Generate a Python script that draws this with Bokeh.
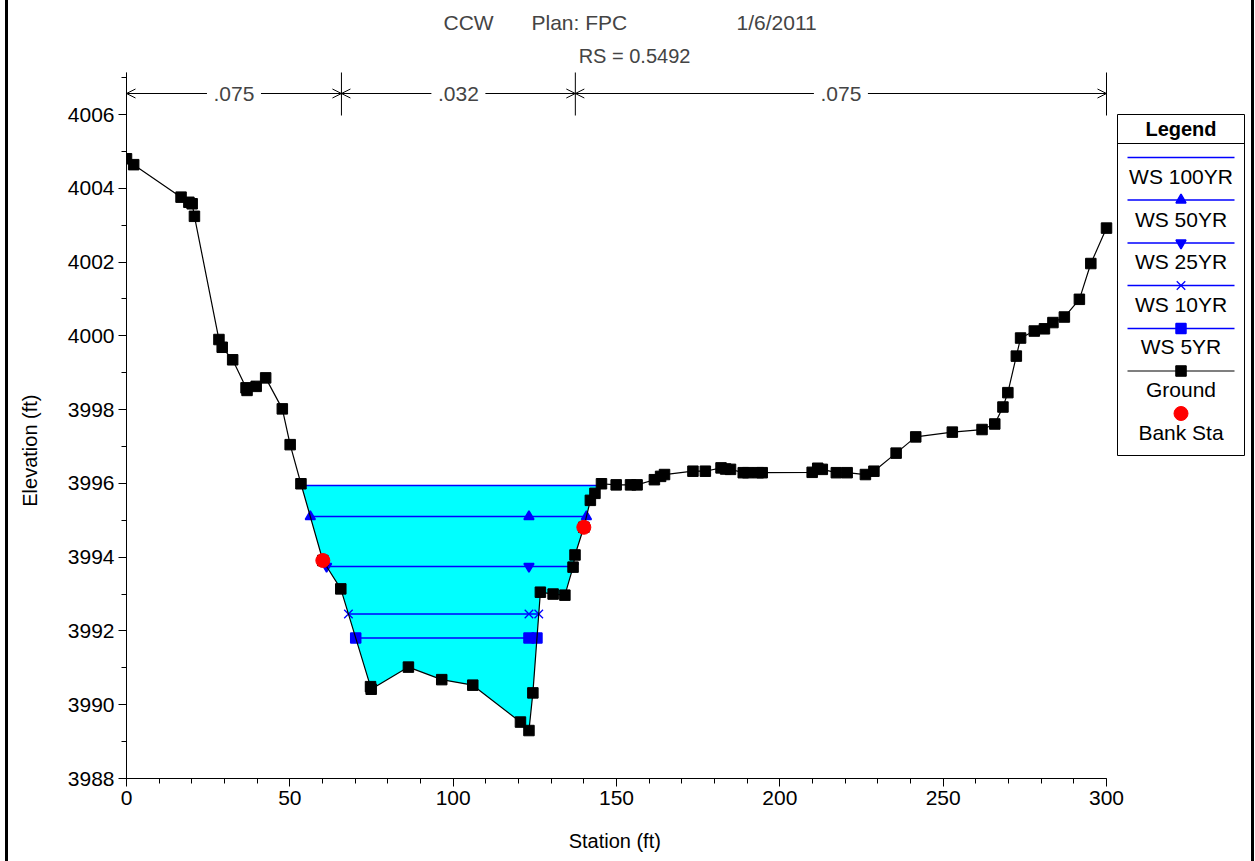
import numpy as np
from bokeh.plotting import figure
from bokeh.models import Range1d, LinearAxis, SingleIntervalTicker, Arrow, OpenHead, Label
from bokeh.core.properties import value
from bokeh.embed import file_html
from bokeh.resources import INLINE

# ---------------- data ----------------
ground_sta = [0.0, 2.2, 16.7, 19.1, 20.1, 20.8, 28.3, 29.3, 32.5, 36.6, 36.9, 39.7, 42.6, 47.7,
              50.1, 53.4, 60.1, 65.6, 74.7, 74.9, 86.3, 96.5, 106.0, 120.6, 123.2, 124.4, 126.7,
              130.6, 134.2, 136.7, 137.3, 140.0, 142.0, 143.4, 145.4, 149.9, 154.3, 156.3, 161.6,
              163.5, 164.7, 173.4, 177.2, 182.0, 183.4, 184.9, 188.8, 190.2, 193.4, 194.6, 209.9,
              211.6, 213.0, 217.3, 220.6, 226.2, 228.8, 235.6, 241.6, 252.8, 261.9, 265.8, 268.3,
              269.8, 272.4, 273.7, 277.9, 281.0, 283.6, 287.1, 291.7, 295.2, 300.0]
ground_elev = [4004.80, 4004.64, 4003.76, 4003.62, 4003.58, 4003.24, 3999.90, 3999.69, 3999.35,
               3998.59, 3998.52, 3998.63, 3998.86, 3998.02, 3997.05, 3995.99, 3993.91, 3993.14,
               3990.49, 3990.42, 3991.02, 3990.68, 3990.53, 3989.53, 3989.30, 3990.32, 3993.05,
               3993.00, 3992.97, 3993.73, 3994.06, 3994.81, 3995.54, 3995.73, 3995.99, 3995.96,
               3995.96, 3995.96, 3996.10, 3996.19, 3996.24, 3996.33, 3996.33, 3996.42, 3996.39,
               3996.38, 3996.29, 3996.29, 3996.29, 3996.29, 3996.30, 3996.41, 3996.38, 3996.29,
               3996.29, 3996.24, 3996.33, 3996.82, 3997.26, 3997.39, 3997.46, 3997.61, 3998.07,
               3998.46, 3999.45, 3999.94, 4000.13, 4000.19, 4000.36, 4000.51, 4000.99, 4001.96,
               4002.92]
bank_sta = [60.1, 140.0]
bank_elev = [3993.91, 3994.81]
ws_names = ["WS 100YR", "WS 50YR", "WS 25YR", "WS 10YR", "WS 5YR"]
ws_elev = [3995.94, 3995.10, 3993.75, 3992.46, 3991.81]
ws_markers = [None, "triangle", "inverted_triangle", "x", "square"]
n_values = [".075", ".032", ".075"]
n_breaks = [0.0, 65.8, 137.4, 300.0]
title_parts = ["CCW", "Plan: FPC", "1/6/2011"]
subtitle = "RS = 0.5492"
x_label = "Station (ft)"
y_label = "Elevation (ft)"

# ---------------- pixel helpers (layout only) ----------------
XS = 980 / 300.0      # px per ft
YS = 664 / 18.0       # px per ft
def px(xp):
    return (xp - 126) / XS
def py(yp):
    return 3988 + (778 - yp) / YS

FONT = "Liberation Sans"
BLUE = "#0000FF"
W, H = 1255, 861
FRAME_R = 1247
NB = "\u00a0"

p = figure(width=W, height=H, x_range=Range1d(0, px(FRAME_R)), y_range=Range1d(3988, py(0)),
           output_backend="svg", toolbar_location=None, x_axis_type=None, y_axis_type=None,
           min_border_left=126, min_border_right=W - FRAME_R, min_border_top=0,
           min_border_bottom=H - 778)
p.outline_line_color = None
p.background_fill_color = "white"
p.border_fill_color = None
p.styles = {"background": "linear-gradient(to right, white 0px, white 5px, black 5px, black 8px, "
                          "white 8px, white 1251px, black 1251px, black 1254px, white 1254px)"}

# axes
yax = LinearAxis(ticker=SingleIntervalTicker(interval=2, num_minor_ticks=2), bounds=(3988, py(72)))
xax = LinearAxis(ticker=SingleIntervalTicker(interval=50, num_minor_ticks=5), bounds=(0, 300))
for ax in (yax, xax):
    ax.major_label_text_font = FONT
    ax.major_label_text_font_size = "21px"
    ax.major_label_text_color = "black"
    ax.axis_line_color = "black"
    ax.major_tick_line_color = "black"
    ax.minor_tick_line_color = "black"
    ax.major_tick_in = 0
    ax.major_tick_out = 8
    ax.minor_tick_in = 0
    ax.minor_tick_out = 5
    ax.major_label_standoff = 4
    ax.axis_label_text_font = FONT
    ax.axis_label_text_font_size = "20px"
    ax.axis_label_text_font_style = "normal"
    ax.axis_label_text_color = "black"
# labels are centred on the whole frame; non-breaking padding moves them over the plotted extent
xax.axis_label = x_label + NB * 26
xax.axis_label_standoff = 22
yax.axis_label = y_label + NB * 22
yax.axis_label_standoff = 24
p.add_layout(yax, "left")
p.add_layout(xax, "below")

# ---------------- data marks ----------------
gs = np.array(ground_sta)
ge = np.array(ground_elev)
imin = int(np.argmin(ge))
thal = gs[imin]

def crossings(w):
    i = imin
    while ge[i] < w:
        i -= 1
    xl = gs[i] + (w - ge[i]) * (gs[i + 1] - gs[i]) / (ge[i + 1] - ge[i])
    j = imin
    while ge[j] < w:
        j += 1
    xr = gs[j - 1] + (w - ge[j - 1]) * (gs[j] - gs[j - 1]) / (ge[j] - ge[j - 1])
    return xl, xr, i, j

# water fill for highest WS
w0 = ws_elev[0]
xl, xr, i0, j0 = crossings(w0)
fx = [xl] + list(gs[i0 + 1:j0]) + [xr]
fy = [w0] + list(ge[i0 + 1:j0]) + [w0]
p.patch(fx, fy, fill_color="#00FFFF", line_color=None)

def ws_marker(mk, xs, ys):
    if mk == "x":
        p.scatter(xs, ys, marker="x", size=12, line_color=BLUE, line_width=1.3)
    else:
        p.scatter(xs, ys, marker=mk, size=10, fill_color=BLUE, line_color=BLUE, line_width=1.5)

for name, w, mk in zip(ws_names, ws_elev, ws_markers):
    a, b, _, _ = crossings(w)
    p.line([a, b], [w, w], line_color=BLUE, line_width=1.5)
    if mk is not None:
        ws_marker(mk, [a, thal, b], [w, w, w])

p.line(gs, ge, line_color="black", line_width=1.2)
p.scatter(gs, ge, marker="square", size=10.5, fill_color="black", line_color="black")
p.scatter(bank_sta, bank_elev, marker="circle", size=14, fill_color="#FF0000", line_color="#FF0000")

# ---------------- Manning's n brackets ----------------
yb = py(93)
for xb in n_breaks:
    p.segment(x0=[xb], y0=[py(72)], x1=[xb], y1=[py(115)], line_color="black", line_width=1)
gap = 27 / XS
for k, nv in enumerate(n_values):
    a, b = n_breaks[k], n_breaks[k + 1]
    m = (a + b) / 2
    p.add_layout(Arrow(x_start=m - gap, y_start=yb, x_end=a, y_end=yb, line_width=1,
                       end=OpenHead(size=9, line_width=1)))
    p.add_layout(Arrow(x_start=m + gap, y_start=yb, x_end=b, y_end=yb, line_width=1,
                       end=OpenHead(size=9, line_width=1)))
    p.add_layout(Label(x=m, y=yb, text=nv, text_align="center", text_baseline="middle",
                       text_font=FONT, text_font_size="21px"))

# ---------------- titles ----------------
for t, xs0 in zip(title_parts, [443, 531, 736]):
    p.add_layout(Label(x=px(xs0), y=py(22), text=t, text_align="left", text_baseline="middle",
                       text_font=FONT, text_font_size="21px"))
p.add_layout(Label(x=px(634), y=py(55), text=subtitle, text_align="center", text_baseline="middle",
                   text_font=FONT, text_font_size="20px"))

# ---------------- legend box ----------------
L, R, T, B = 1117, 1244, 114, 455
cx = (L + R) / 2
p.quad(left=[px(L)], right=[px(R)], top=[py(T)], bottom=[py(B)], fill_color="white",
       line_color="black", line_width=1)
p.segment(x0=[px(L)], y0=[py(143)], x1=[px(R)], y1=[py(143)], line_color="black", line_width=1)
p.text(x=[px(cx)], y=[py(128)], text=["Legend"], text_align="center", text_baseline="middle",
       text_font=value(FONT), text_font_size="20px", text_font_style="bold")

entry_line_y = [157, 199.5, 242.5, 285, 328, 370.5]
entry_text_y = [176, 218.5, 261, 303.5, 346, 388.5, 431.5]
leg_names = ws_names + ["Ground", "Bank Sta"]
for k, nm in enumerate(leg_names):
    if k < 5:
        ly = py(entry_line_y[k])
        p.line([px(1127), px(1234)], [ly, ly], line_color=BLUE, line_width=1.5)
        if ws_markers[k] is not None:
            ws_marker(ws_markers[k], [px(cx)], [ly])
    elif k == 5:
        ly = py(entry_line_y[k])
        p.line([px(1127), px(1234)], [ly, ly], line_color="black", line_width=1.2)
        p.scatter([px(cx)], [ly], marker="square", size=10.5, fill_color="black", line_color="black")
    else:
        p.scatter([px(cx)], [py(413)], marker="circle", size=14, fill_color="#FF0000",
                  line_color="#FF0000")
    p.text(x=[px(cx)], y=[py(entry_text_y[k])], text=[nm], text_align="center",
           text_baseline="middle", text_font=value(FONT), text_font_size="21px")

open("out.html", "w").write(file_html(p, INLINE))
